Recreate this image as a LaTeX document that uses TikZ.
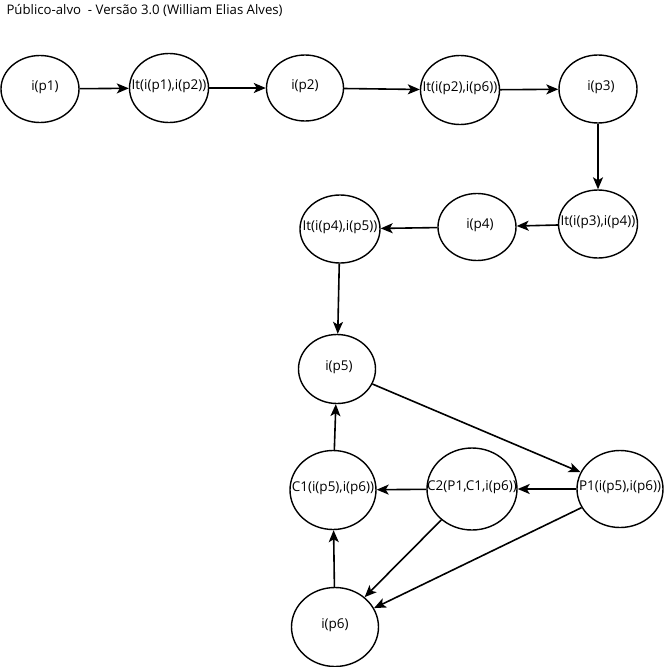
\documentclass[tikz,border=0pt]{standalone}
\usepackage{fontspec}
\setmainfont{Open Sans}
\usetikzlibrary{arrows.meta,shapes.geometric}
\begin{document}
\begin{tikzpicture}[x=1pt,y=-1pt,
  arr/.style={line width=1.6pt,-{Stealth[length=12pt,width=10pt,inset=3pt]}},
  elnode/.style 2 args={draw,line width=1.4pt,ellipse,inner sep=0pt,minimum width=#1,minimum height=#2},
  eltext/.style={font=\fontsize{13.5}{15}\selectfont,inner sep=0pt}]
\useasboundingbox[fill=white] (0,0) rectangle (664,667);
\node[anchor=west,font=\fontsize{13.2}{15}\selectfont] (title) at (3,10) {Público-alvo\ \ - Versão 3.0 (William Elias Alves)};
\newcommand{\myell}[6]{\node[elnode={#4}{#5}] (#1) at #2 {}; \node[eltext] (#1t) at ([xshift=#6pt,yshift=2pt]#1.center) {#3};}
\myell{p1}{(40,89)}{i(p1)}{78}{67}{5}
\myell{it12}{(169,88)}{It(i(p1),i(p2))}{79}{69}{0}
\myell{p2}{(305,88)}{i(p2)}{77}{66}{0}
\myell{it26}{(460,90)}{It(i(p2),i(p6))}{79}{69}{0}
\myell{p3}{(598,89)}{i(p3)}{78}{68}{3}
\myell{it34}{(598,224)}{It(i(p3),i(p4))}{79}{68}{0}
\myell{p4}{(477,227)}{i(p4)}{78}{67}{3}
\myell{it45}{(340,229)}{It(i(p4),i(p5))}{80}{68}{0}
\myell{p5}{(337,369)}{i(p5)}{77}{69}{2}
\myell{c1}{(333,490)}{C1(i(p5),i(p6))}{86}{79}{0}
\myell{c2}{(472,489)}{C2(P1,C1,i(p6))}{90}{82}{0}
\myell{pp1}{(620,489)}{P1(i(p5),i(p6))}{86}{77}{0}
\myell{p6}{(335,627)}{i(p6)}{87}{79}{0}
\draw[arr] (p1) -- (it12);
\draw[arr] (it12) -- (p2);
\draw[arr] (p2) -- (it26);
\draw[arr] (it26) -- (p3);
\draw[arr] (p3) -- (it34);
\draw[arr] (it34) -- (p4);
\draw[arr] (p4) -- (it45);
\draw[arr] (it45) -- (p5);
\draw[arr] (p5) -- (pp1);
\draw[arr] (pp1) -- (c2);
\draw[arr] (c2) -- (c1);
\draw[arr] (c1) -- (p5);
\draw[arr] (p6) -- (c1);
\draw[arr] (c2) -- (p6);
\draw[arr] (pp1) -- (p6);
\end{tikzpicture}
\end{document}
